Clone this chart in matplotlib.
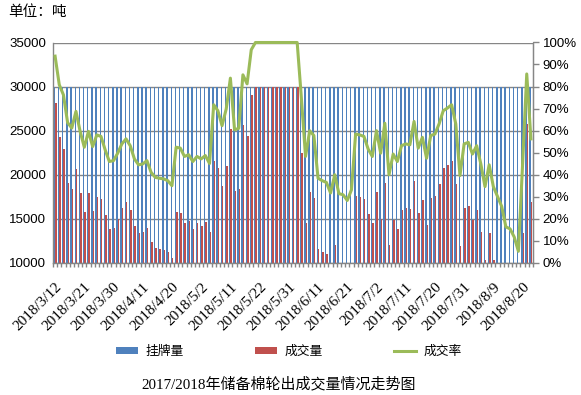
import numpy as np
import matplotlib
matplotlib.use("Agg")
import matplotlib.pyplot as plt
from matplotlib.patches import Patch
from matplotlib.lines import Line2D
from matplotlib.ticker import PercentFormatter

plt.rcParams['font.family'] = ['Liberation Sans', 'Noto Sans CJK SC']

dates = ['2018/3/12','2018/3/13','2018/3/14','2018/3/15','2018/3/16','2018/3/19','2018/3/20','2018/3/21','2018/3/22','2018/3/23',
         '2018/3/26','2018/3/27','2018/3/28','2018/3/29','2018/3/30','2018/4/2','2018/4/3','2018/4/4','2018/4/8','2018/4/9',
         '2018/4/10','2018/4/11','2018/4/12','2018/4/13','2018/4/16','2018/4/17','2018/4/18','2018/4/19','2018/4/20','2018/4/23',
         '2018/4/24','2018/4/25','2018/4/26','2018/4/27','2018/4/28','2018/5/2','2018/5/3','2018/5/4','2018/5/7','2018/5/8',
         '2018/5/9','2018/5/10','2018/5/11','2018/5/14','2018/5/15','2018/5/16','2018/5/17','2018/5/18','2018/5/21','2018/5/22',
         '2018/5/23','2018/5/24','2018/5/25','2018/5/28','2018/5/29','2018/5/30','2018/5/31','2018/6/1','2018/6/4','2018/6/5',
         '2018/6/6','2018/6/7','2018/6/8','2018/6/11','2018/6/12','2018/6/13','2018/6/14','2018/6/15','2018/6/19','2018/6/20',
         '2018/6/21','2018/6/22','2018/6/25','2018/6/26','2018/6/27','2018/6/28','2018/6/29','2018/7/2','2018/7/3','2018/7/4',
         '2018/7/5','2018/7/6','2018/7/9','2018/7/10','2018/7/11','2018/7/12','2018/7/13','2018/7/16','2018/7/17','2018/7/18',
         '2018/7/19','2018/7/20','2018/7/23','2018/7/24','2018/7/25','2018/7/26','2018/7/27','2018/7/30','2018/7/31','2018/8/1',
         '2018/8/2','2018/8/3','2018/8/6','2018/8/7','2018/8/8','2018/8/9','2018/8/10','2018/8/13','2018/8/14','2018/8/15',
         '2018/8/16','2018/8/17','2018/8/20','2018/8/21','2018/8/22']

# 挂牌量 (listed, tons)
listed = [30000, 30000, 30000, 30000, 30000, 30000, 30000, 30000, 30000, 30000,
          30000, 30000, 30000, 30000, 30000, 30000, 30000, 30000, 30000, 30000,
          30000, 30000, 30000, 30000, 30000, 30000, 30000, 30000, 30000, 30000,
          30000, 30000, 30000, 30000, 30000, 30000, 30000, 30000, 30000, 30000,
          30000, 30000, 30000, 30000, 30000, 30000, 30000, 30000, 30000, 30000,
          30000, 30000, 30000, 30000, 30000, 30000, 30000, 30000, 30000, 30000,
          30000, 30000, 30000, 30000, 30000, 30000, 30000, 30000, 30000, 30000,
          30000, 30000, 30000, 30000, 30000, 30000, 30000, 30000, 30000, 30000,
          30000, 30000, 30000, 30000, 30000, 30000, 30000, 30000, 30000, 30000,
          30000, 30000, 30000, 30000, 30000, 30000, 30000, 30000, 30000, 30000,
          30000, 30000, 30000, 30000, 30000, 30000, 30000, 30000, 30000, 30000,
          30000, 30000, 30000, 30000, 30000]

# 成交量 (traded, tons)
traded = [28140, 24240, 22870, 19080, 18320, 20600, 17870, 15710, 17870, 15820,
          17410, 17190, 15370, 13780, 13890, 14910, 16160, 16850, 15940, 14120,
          13320, 13430, 13890, 12300, 11620, 11500, 11390, 11160, 10480, 15710,
          15600, 14460, 14690, 13780, 14460, 14120, 14580, 13500, 21510, 20710,
          18670, 20940, 25150, 18100, 18300, 25600, 24350, 29010, 30000, 30000,
          30000, 30000, 30000, 30000, 30000, 30000, 30000, 30000, 30000, 22500,
          14460, 17980, 17300, 11500, 11160, 10930, 9480, 11960, 9390, 9240,
          8460, 9900, 17530, 17410, 17190, 15480, 14460, 17980, 14910, 19000,
          11960, 14800, 13780, 15940, 16160, 16050, 19230, 15600, 17080, 14230,
          17300, 17530, 18900, 20700, 21050, 21500, 18900, 11840, 16160, 16390,
          14800, 15940, 13430, 10340, 13320, 10340, 9000, 7650, 4860, 4590,
          3480, 1530, 13320, 25700, 16850]

# 成交率 (%)
rate = [93.8, 80.8, 76.2, 63.6, 61.1, 68.7, 59.6, 52.4, 59.6, 52.7,
        58.0, 57.3, 51.2, 45.9, 46.3, 49.7, 53.9, 56.2, 53.1, 47.1,
        44.4, 44.8, 46.3, 41.0, 38.7, 38.3, 38.0, 37.2, 34.9, 52.4,
        52.0, 48.2, 49.0, 45.9, 48.2, 47.1, 48.6, 45.0, 71.7, 69.0,
        62.2, 69.8, 83.8, 60.3, 61.0, 85.3, 81.2, 96.7, 100, 100,
        100, 100, 100, 100, 100, 100, 100, 100, 100, 75.0,
        48.2, 59.9, 57.7, 38.3, 37.2, 36.4, 31.6, 39.9, 31.3, 30.8,
        28.2, 33.0, 58.4, 58.0, 57.3, 51.6, 48.2, 59.9, 49.7, 63.3,
        39.9, 49.3, 45.9, 53.1, 53.9, 53.5, 64.1, 52.0, 56.9, 47.4,
        57.7, 58.4, 63.0, 69.0, 70.2, 71.7, 63.0, 39.5, 53.9, 54.6,
        49.3, 53.1, 44.8, 34.5, 44.4, 34.5, 30.0, 25.5, 16.2, 15.3,
        11.6, 5.1, 44.4, 85.7, 56.2]

series_names = ['挂牌量', '成交量', '成交率']
left_ticks = [10000, 15000, 20000, 25000, 30000, 35000]
label_every = 7
title = '2017/2018年储备棉轮出成交量情况走势图'
unit_text = '单位：吨'

BLUE = '#4F81BD'
RED = '#C0504D'
GREEN = '#9BBB59'
GRID = '#868686'

W, H = 581, 395
fig = plt.figure(figsize=(W / 100, H / 100), dpi=100)
ax = fig.add_axes([53 / W, 1 - 262.5 / H, 480 / W, 220 / H])

n = len(dates)
x = np.arange(n)
bw = 0.34
ax.bar(x - bw / 2, listed, width=bw, color=BLUE, linewidth=0, zorder=2)
ax.bar(x + bw / 2, traded, width=bw, color=RED, linewidth=0, zorder=2)

ax.set_xlim(-0.5, n - 0.5)
ax.set_ylim(left_ticks[0], left_ticks[-1])
ax.set_yticks(left_ticks)
ax.yaxis.grid(True, color=GRID, linewidth=1.0)
ax.set_axisbelow(True)
for s in ['left', 'right', 'bottom']:
    ax.spines[s].set_color(GRID)
    ax.spines[s].set_linewidth(1.0)
ax.spines['top'].set_visible(False)
ax.tick_params(axis='y', length=0, pad=5, labelsize=9.5, labelcolor='black')

ax.set_xticks(np.arange(-0.5, n, 1), minor=True)
ax.tick_params(axis='x', which='minor', length=3, color=GRID, width=1.0)
lab_pos = x[::label_every]
ax.set_xticks(lab_pos)
ax.set_xticklabels([dates[i] for i in lab_pos], rotation=45, ha='right', va='top',
                   rotation_mode='anchor', family=['Liberation Serif'], fontsize=11)
ax.tick_params(axis='x', which='major', length=0, pad=13)

ax2 = ax.twinx()
ax2.plot(x, rate, color=GREEN, linewidth=2.2, zorder=3, solid_joinstyle='round',
         clip_on=False)
ax2.set_ylim(0, 100)
ax2.set_yticks(np.arange(0, 101, 10))
ax2.yaxis.set_major_formatter(PercentFormatter(decimals=0))
ax2.tick_params(axis='y', length=4, color=GRID, width=1.0, pad=3, labelsize=9.5)
for s in ['left', 'right', 'bottom', 'top']:
    ax2.spines[s].set_visible(False)
ax2.spines['right'].set_visible(True)
ax2.spines['right'].set_color(GRID)

handles = [Patch(facecolor=BLUE, edgecolor='none'),
           Patch(facecolor=RED, edgecolor='none'),
           Line2D([0], [0], color=GREEN, linewidth=2.2)]
fig.legend(handles, series_names, loc='center', bbox_to_anchor=(289 / W, 1 - 352 / H),
           ncol=3, frameon=False, fontsize=9.2, handlelength=1.7, handleheight=0.55,
           columnspacing=5.6, handletextpad=0.6)

fig.text(279 / W, 1 - 384 / H, title, ha='center', va='center', fontsize=10.8,
         family=['Liberation Serif', 'Noto Sans CJK SC'])
fig.text(8 / W, 1 - 12 / H, unit_text, ha='left', va='center', fontsize=10.5,
         family=['Noto Sans CJK SC'])

fig.savefig('out.png', dpi=100)
